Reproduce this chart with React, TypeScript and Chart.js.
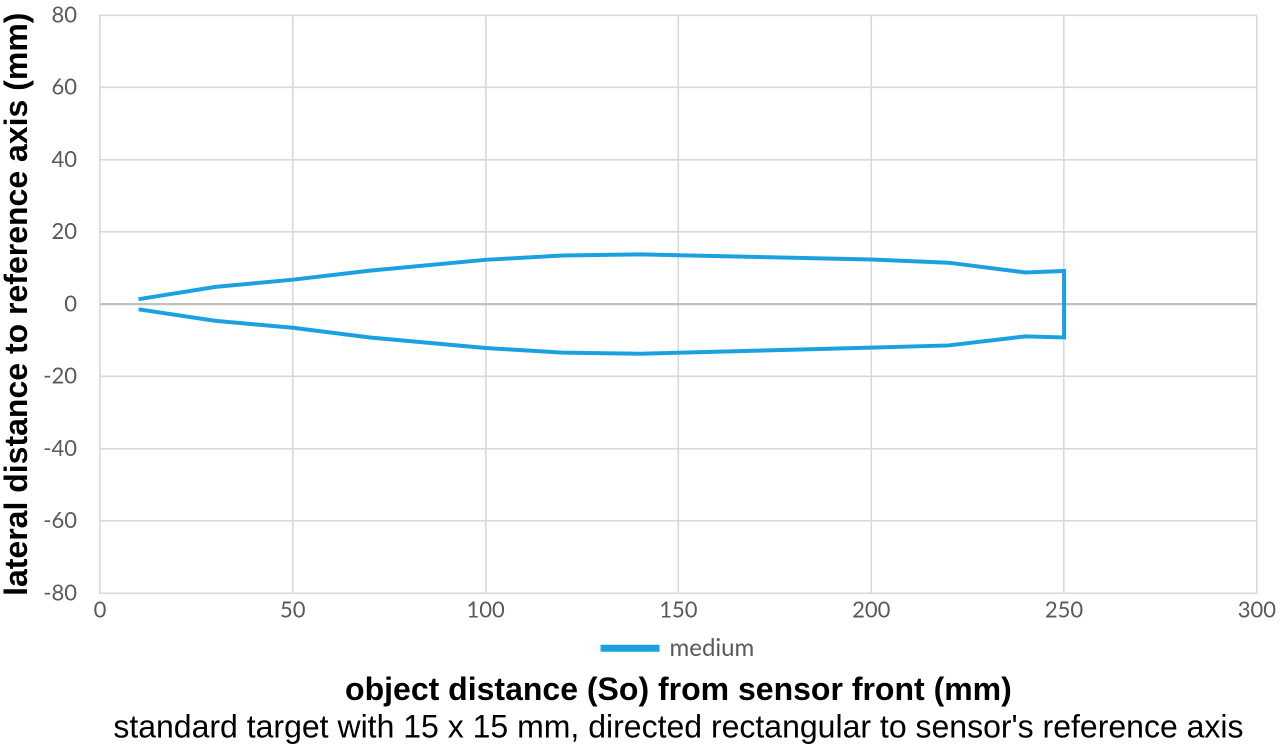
import React, { useEffect, useRef } from "react";
import { Chart, registerables } from "chart.js";

Chart.register(...registerables);

const seriesName = "medium";
const upperX = [10, 30, 50, 70, 100, 120, 140, 200, 220, 240, 250];
const upperY = [1.4, 4.8, 6.8, 9.3, 12.3, 13.5, 13.8, 12.4, 11.5, 8.8, 9.2];
const lowerX = [250, 240, 220, 200, 140, 120, 100, 70, 50, 30, 10];
const lowerY = [-9.2, -8.9, -11.4, -12.0, -13.7, -13.4, -12.1, -9.2, -6.5, -4.6, -1.4];
const xTitle = "object distance (So) from sensor front (mm)";
const subTitle = "standard target with 15 x 15 mm, directed rectangular to sensor's reference axis";
const yTitle = "lateral distance to reference axis (mm)";

const W = 1280;
const H = 751;

export default function App() {
  const ref = useRef<HTMLCanvasElement | null>(null);
  useEffect(() => {
    document.body.style.margin = "0";
    if (!ref.current) return;
    const pts = [
      ...upperX.map((x, i) => ({ x, y: upperY[i] })),
      ...lowerX.map((x, i) => ({ x, y: lowerY[i] })),
    ];
    const color = "#1BA1E2";
    const chart = new Chart(ref.current, {
      type: "scatter",
      data: {
        datasets: [
          {
            label: seriesName,
            data: pts,
            showLine: true,
            borderColor: color,
            backgroundColor: color,
            borderWidth: 4,
            pointRadius: 0,
            tension: 0,
          },
        ],
      },
      options: {
        animation: false,
        responsive: false,
        maintainAspectRatio: false,
        devicePixelRatio: 2,
        layout: { padding: { top: 15, right: 21, left: 0, bottom: 4 } },
        scales: {
          x: {
            type: "linear",
            min: 0,
            max: 300,
            ticks: {
              stepSize: 50,
              color: "#595959",
              font: { family: "Lato", size: 22 },
              padding: 4,
            },
            grid: { color: "#d9d9d9", lineWidth: 1.6, drawTicks: false },
            border: { display: false },
          },
          y: {
            type: "linear",
            min: -80,
            max: 80,
            ticks: {
              stepSize: 20,
              color: "#595959",
              font: { family: "Lato", size: 22 },
              padding: 2,
            },
            grid: {
              color: (ctx: any) => (ctx.tick && ctx.tick.value === 0 ? "#bfbfbf" : "#d9d9d9"),
              lineWidth: (ctx: any) => (ctx.tick && ctx.tick.value === 0 ? 2.2 : 1.6),
              drawTicks: true,
              tickLength: 21,
              tickColor: "rgba(0,0,0,0)",
            },
            border: { display: true, color: "#d9d9d9", width: 1.6 },
            title: {
              display: true,
              text: yTitle,
              color: "#000",
              font: { family: "Liberation Sans", size: 32, weight: "bold", lineHeight: 0.9 },
              padding: { top: 4, bottom: 8.5 },
            },
          },
        },
        plugins: {
          legend: {
            position: "bottom",
            fullSize: false,
            labels: {
              boxWidth: 55,
              boxHeight: 3,
              color: "#595959",
              font: { family: "Lato", size: 24 },
              padding: 8.6,
            },
          },
          title: {
            display: true,
            position: "bottom",
            fullSize: false,
            text: xTitle,
            color: "#000",
            weight: 1100,
            font: { family: "Liberation Sans", size: 32, weight: "bold", lineHeight: 1.2 },
            padding: { top: 1.5, bottom: 0 },
          } as any,
          subtitle: {
            display: true,
            position: "bottom",
            fullSize: false,
            text: subTitle,
            color: "#000",
            weight: 1500,
            font: { family: "Liberation Sans", size: 32, lineHeight: 1.15 },
            padding: { top: 0, bottom: 0 },
          } as any,
          tooltip: { enabled: false },
        },
      } as any,
    });
    return () => chart.destroy();
  }, []);
  return (
    <div style={{ width: W, height: H, background: "#fff", overflow: "hidden" }}>
      <canvas
        ref={ref}
        width={W}
        height={H}
        style={{ width: W + "px", height: H + "px", display: "block" }}
      />
    </div>
  );
}
